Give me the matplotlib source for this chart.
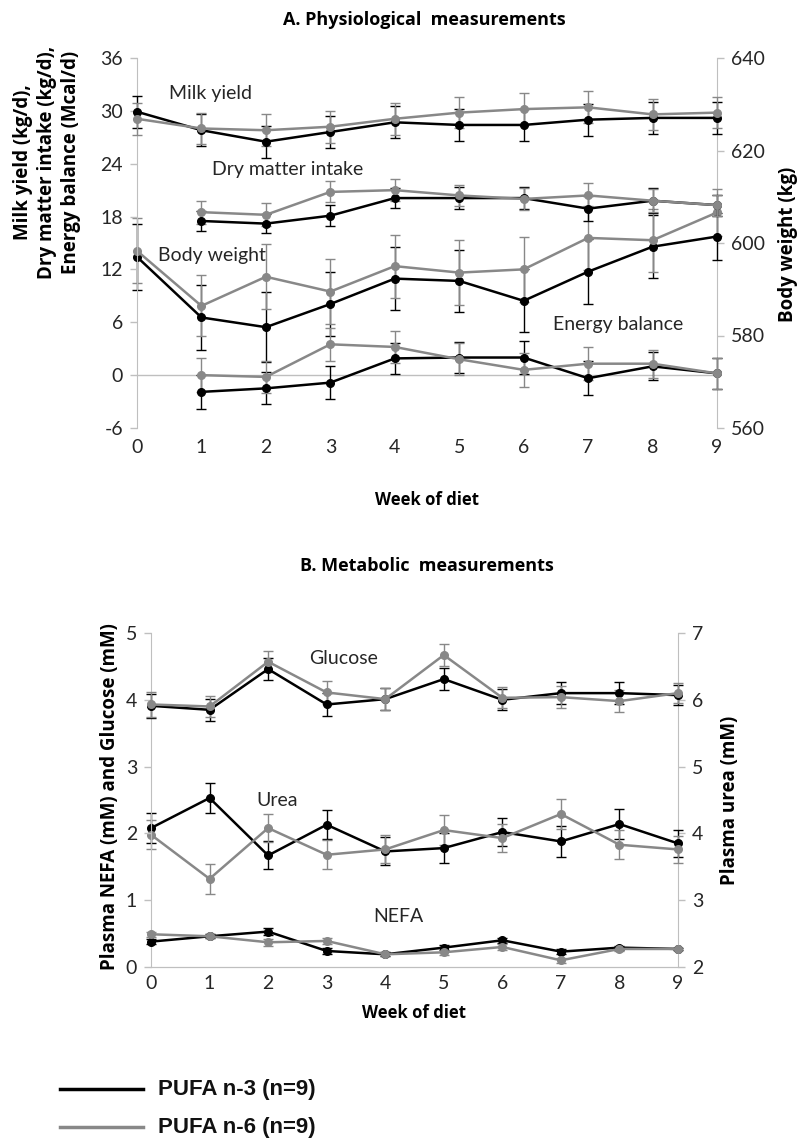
import numpy as np
import matplotlib
matplotlib.use("Agg")
import matplotlib.pyplot as plt

plt.rcParams["axes.unicode_minus"] = False

# ── data ──────────────────────────────────────────────────────────────────────
weeks = np.arange(10)
weeks_dmi = np.arange(1, 10)

my_n3 = [29.9, 27.8, 26.5, 27.6, 28.7, 28.4, 28.4, 29.0, 29.2, 29.2]
my_n6 = [29.1, 28.0, 27.8, 28.2, 29.1, 29.8, 30.2, 30.4, 29.6, 29.8]
my_err = [1.8] * 10

dmi_n3 = [17.5, 17.2, 18.1, 20.1, 20.1, 20.1, 18.9, 19.8, 19.3]
dmi_n6 = [18.5, 18.2, 20.8, 21.0, 20.4, 20.0, 20.4, 19.8, 19.3]
dmi_err_n3 = [1.1, 1.1, 1.2, 1.1, 1.2, 1.2, 1.4, 1.4, 1.2]
dmi_err_n6 = [1.3, 1.3, 1.2, 1.25, 1.2, 1.2, 1.4, 1.3, 1.2]

bw_n3 = [597.0, 583.9, 581.8, 586.8, 592.3, 591.8, 587.5, 593.8, 599.2, 601.4]
bw_n6 = [598.3, 586.4, 592.7, 589.5, 595.0, 593.6, 594.3, 601.1, 600.6, 606.6]
bw_err_n3 = [7.2, 7.0, 7.5, 7.0, 6.8, 6.7, 6.8, 7.0, 6.8, 5.0]
bw_err_n6 = [7.0, 6.6, 7.0, 7.0, 6.8, 7.0, 7.0, 7.0, 6.8, 5.0]

eb_n3 = [-1.9, -1.5, -0.85, 1.9, 2.0, 2.0, -0.35, 1.0, 0.2]
eb_n6 = [0.0, -0.2, 3.5, 3.2, 1.8, 0.6, 1.3, 1.3, 0.2]
eb_err = [1.9, 1.8, 1.9, 1.8, 1.8, 1.9, 1.9, 1.6, 1.8]

glu_n3 = [3.91, 3.85, 4.46, 3.93, 4.01, 4.31, 4.00, 4.10, 4.10, 4.07]
glu_n6 = [3.93, 3.90, 4.57, 4.11, 4.01, 4.67, 4.03, 4.04, 3.98, 4.10]
glu_err = [0.18, 0.16, 0.16, 0.17, 0.17, 0.17, 0.16, 0.16, 0.17, 0.15]

urea_n3 = [4.08, 4.53, 3.67, 4.13, 3.73, 3.78, 4.02, 3.88, 4.14, 3.85]
urea_n6 = [3.98, 3.32, 4.08, 3.68, 3.76, 4.05, 3.93, 4.29, 3.83, 3.76]
urea_err = [0.22, 0.22, 0.21, 0.22, 0.21, 0.22, 0.21, 0.23, 0.22, 0.2]

nefa_n3 = [0.38, 0.46, 0.53, 0.24, 0.19, 0.29, 0.40, 0.23, 0.29, 0.27]
nefa_n6 = [0.49, 0.46, 0.37, 0.39, 0.19, 0.22, 0.30, 0.10, 0.27, 0.27]
nefa_err = [0.04, 0.03, 0.05, 0.04, 0.03, 0.04, 0.04, 0.04, 0.03, 0.02]

BLACK = "#000000"
GRAY = "#888888"
SPINE = "#bfbfbf"
TXT = "#262626"
FONT = "Lato"

W, H = 798, 1142
fig = plt.figure(figsize=(W / 100, H / 100), dpi=100)


def px_axes(l, t, r, b):
    return fig.add_axes([l / W, 1 - b / H, (r - l) / W, (b - t) / H])


def series(ax, x, y, err, color):
    ax.errorbar(x, y, yerr=err, fmt="-o", color=color, ecolor=color,
                lw=1.8, ms=5.5, elinewidth=1.0, capsize=3.5, capthick=1.0,
                zorder=3)


def style_axes(ax, ax2):
    for a in (ax, ax2):
        a.spines["top"].set_visible(False)
        for s in ("left", "right", "bottom"):
            a.spines[s].set_color(SPINE)
        a.tick_params(axis="y", colors=SPINE, labelcolor=TXT, labelsize=14,
                      length=5, width=1, pad=5)
        for lab in a.get_yticklabels():
            lab.set_family(FONT)
    ax.tick_params(axis="x", length=0, labelsize=14, labelcolor=TXT, pad=8)
    for lab in ax.get_xticklabels():
        lab.set_family(FONT)


# ── A. physiological ─────────────────────────────────────────────────────────
ax = px_axes(137, 58, 717, 428)
ax2 = ax.twinx()
ax.set_zorder(ax2.get_zorder() + 1)
ax.patch.set_visible(False)

ax.set_xlim(0, 9)
ax.set_ylim(-6, 36)
ax.set_yticks(range(-6, 37, 6))
ax.set_xticks(weeks)
ax2.set_ylim(560, 640)
ax2.set_yticks(range(560, 641, 20))
ax.axhline(0, color=SPINE, lw=1, zorder=1)
ax.spines["bottom"].set_visible(False)
ax2.spines["bottom"].set_visible(False)
ax2.spines["left"].set_visible(False)
ax.spines["right"].set_visible(False)

series(ax, weeks, my_n3, my_err, BLACK)
series(ax, weeks, my_n6, my_err, GRAY)
series(ax, weeks_dmi, dmi_n3, dmi_err_n3, BLACK)
series(ax, weeks_dmi, dmi_n6, dmi_err_n6, GRAY)
series(ax, weeks_dmi, eb_n3, eb_err, BLACK)
series(ax, weeks_dmi, eb_n6, eb_err, GRAY)
series(ax2, weeks, bw_n3, bw_err_n3, BLACK)
series(ax2, weeks, bw_n6, bw_err_n6, GRAY)
for a in (ax, ax2):
    for c in a.get_children():
        c.set_clip_on(False)
style_axes(ax, ax2)

for s, x, y in [("Milk yield", 0.5, 32.0), ("Dry matter intake", 1.17, 23.3),
                ("Body weight", 0.32, 13.6), ("Energy balance", 6.45, 5.7)]:
    ax.text(x, y, s, fontsize=14, family=FONT, color=TXT, va="center")

fig.text(424 / W, 1 - 20 / H, "A. Physiological  measurements", ha="center",
         va="center", fontsize=13, fontweight="bold", family="Open Sans")
fig.text(427 / W, 1 - 500 / H, "Week of diet", ha="center", va="center",
         fontsize=12, fontweight="bold", family="Open Sans")
fig.text(47 / W, 1 - 162 / H,
         "Milk yield (kg/d),\nDry matter intake (kg/d),\nEnergy balance (Mcal/d)",
         rotation=90, ha="center", va="center", multialignment="center",
         fontsize=13.5, fontweight="bold", family="Open Sans", linespacing=1.25)
fig.text(788 / W, 1 - 244 / H, "Body weight (kg)", rotation=90, ha="center",
         va="center", fontsize=13.5, fontweight="bold", family="Open Sans")

# ── B. metabolic ─────────────────────────────────────────────────────────────
bx = px_axes(151, 633, 678, 967)
bx2 = bx.twinx()
bx.set_zorder(bx2.get_zorder() + 1)
bx.patch.set_visible(False)

bx.set_xlim(0, 9)
bx.set_ylim(0, 5)
bx.set_yticks(range(0, 6))
bx.set_xticks(weeks)
bx2.set_ylim(2, 7)
bx2.set_yticks(range(2, 8))
bx2.spines["left"].set_visible(False)
bx.spines["right"].set_visible(False)

series(bx, weeks, glu_n3, glu_err, BLACK)
series(bx, weeks, glu_n6, glu_err, GRAY)
series(bx, weeks, nefa_n3, nefa_err, BLACK)
series(bx, weeks, nefa_n6, nefa_err, GRAY)
series(bx2, weeks, urea_n3, urea_err, BLACK)
series(bx2, weeks, urea_n6, urea_err, GRAY)
for a in (bx, bx2):
    for c in a.get_children():
        c.set_clip_on(False)
style_axes(bx, bx2)
bx.tick_params(axis="x", pad=6)

for s, x, y in [("Glucose", 2.7, 4.62), ("Urea", 1.8, 2.5), ("NEFA", 3.8, 0.75)]:
    bx.text(x, y, s, fontsize=14, family=FONT, color=TXT, va="center")

fig.text(427 / W, 1 - 566 / H, "B. Metabolic  measurements", ha="center",
         va="center", fontsize=13, fontweight="bold", family="Open Sans")
fig.text(414 / W, 1 - 1013 / H, "Week of diet", ha="center", va="center",
         fontsize=12, fontweight="bold", family="Open Sans")
fig.text(110 / W, 1 - 797 / H, "Plasma NEFA (mM) and Glucose (mM)", rotation=90,
         ha="center", va="center", fontsize=13.5, fontweight="bold",
         family="Open Sans")
fig.text(730 / W, 1 - 800 / H, "Plasma urea (mM)", rotation=90, ha="center",
         va="center", fontsize=13.5, fontweight="bold", family="Open Sans")

# ── legend ───────────────────────────────────────────────────────────────────
for yy, col, lab in [(1089, BLACK, "PUFA n-3 (n=9)"), (1127, GRAY, "PUFA n-6 (n=9)")]:
    fig.add_artist(plt.Line2D([60 / W, 143 / W], [1 - yy / H, 1 - yy / H],
                              color=col, lw=2.5))
    fig.text(158 / W, 1 - yy / H, lab, ha="left", va="center", fontsize=16,
             fontweight="bold", family="Liberation Sans", color="#111111")

fig.savefig("out.png", dpi=100)
